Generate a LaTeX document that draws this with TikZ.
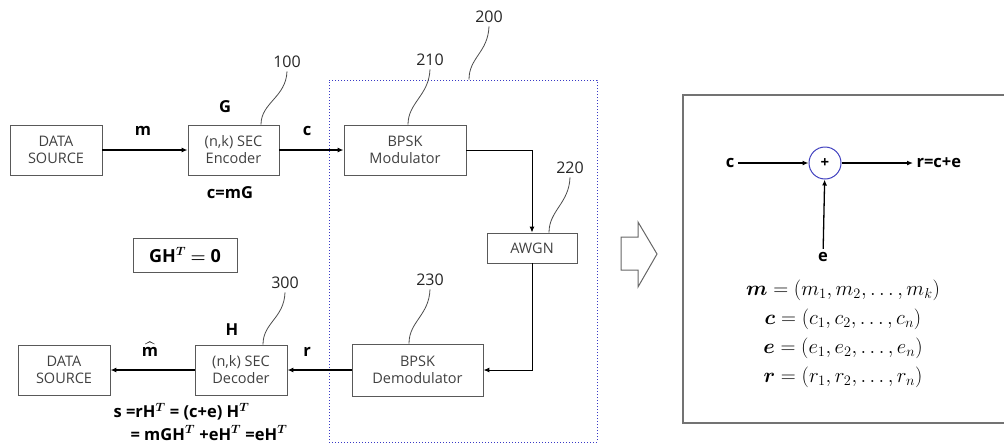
\documentclass[tikz,border=0pt]{standalone}
\usepackage{amsmath,bm}
\usepackage{fontspec}
\setmainfont{Open Sans}
\usetikzlibrary{arrows.meta}

\begin{document}
\begin{tikzpicture}[x=1pt, y=-1pt, >={Latex[length=6pt,width=5pt]},
    block/.style={draw=black!65, line width=0.9pt, align=center, inner sep=0pt,
                  font=\fontsize{14.5}{17}\selectfont, text=black!75},
    sig/.style={font=\bfseries\fontsize{16.5}{19}\selectfont},
    refno/.style={font=\fontsize{16}{18}\selectfont, text=black!85},
    leader/.style={draw=black!70, line width=0.8pt},
    flow/.style={->, line width=1.3pt},
    thinflow/.style={->, line width=1pt}]

    \useasboundingbox (0,0) rectangle (1004,445);

    % Channel frame (200)
    \node[draw=blue!55!gray, dotted, line width=1pt, minimum width=268pt, minimum height=362pt] (chan) at (463,261) {};

    % Transmitter row
    \node[block, minimum width=92pt, minimum height=50pt] (srcA) at (56,150) {DATA\\SOURCE};
    \node[block, minimum width=91pt, minimum height=50pt] (enc) at (233.5,150) {(n,k) SEC\\Encoder};
    \node[block, minimum width=122pt, minimum height=50pt] (mod) at (405,150) {BPSK\\Modulator};
    \node[block, minimum width=90pt, minimum height=30pt] (awgn) at (532,248) {AWGN};

    % Receiver row
    \node[block, minimum width=131pt, minimum height=52pt] (demod) at (417.5,370) {BPSK\\Demodulator};
    \node[block, minimum width=92pt, minimum height=50pt] (dec) at (241,370) {(n,k) SEC\\Decoder};
    \node[block, minimum width=92pt, minimum height=50pt] (srcB) at (64,370) {DATA\\SOURCE};

    % Connections
    \draw[flow] (srcA) -- (enc);
    \draw[flow] (enc) -- (mod);
    \draw[thinflow] (mod.east) -| (awgn.north);
    \draw[thinflow] (awgn.south) |- (demod.east);
    \draw[flow] (demod) -- (dec);
    \draw[flow] (dec) -- (srcB);

    % Signal labels
    \node[sig] (lm) at (143,131) {m};
    \node[sig] (lc) at (307,131) {c};
    \node[sig] (lG) at (225,107) {G};
    \node[sig] (lcmg) at (230,193) {c=mG};
    \node[sig] (lH) at (232,330) {H};
    \node[sig, inner sep=0pt] (lmhat) at (150,349) {$\widehat{\textbf{m}}$};
    \node[sig] (lr) at (307,352) {r};
    \node[block, font=\bfseries\fontsize{18}{20}\selectfont, text=black, minimum width=104pt, minimum height=34pt] (orth) at (185,255) {GH$^{\bm{T}}$ $\bm{=}$ 0};
    \node[sig, anchor=west] (synA) at (110,412) {s =rH$^{\bm{T}}$ = (c+e) H$^{\bm{T}}$};
    \node[sig, anchor=west] (synB) at (127,433) {= mGH$^{\bm{T}}$ +eH$^{\bm{T}}$ =eH$^{\bm{T}}$};

    % Reference numerals with leaders
    \node[refno] (n100) at (287,62) {100};
    \node[refno] (n200) at (489,17) {200};
    \node[refno] (n210) at (430,60) {210};
    \node[refno] (n220) at (570,168) {220};
    \node[refno] (n230) at (430,280) {230};
    \node[refno] (n300) at (285,283) {300};
    \draw[leader] (n100.south) .. controls +(-1,26) and +(0,-22) .. ([xshift=27.5pt]enc.north);
    \draw[leader] (n200.south) .. controls +(-1,26) and +(0,-22) .. ([xshift=6pt]chan.north);
    \draw[leader] (n210.south) .. controls +(-1,26) and +(0,-22) .. ([xshift=3pt]mod.north);
    \draw[leader] (n220.south) .. controls +(-1,26) and +(0,-22) .. ([xshift=17pt]awgn.north);
    \draw[leader] (n230.south) .. controls +(-1,26) and +(0,-22) .. ([xshift=-8.5pt]demod.north);
    \draw[leader] (n300.south) .. controls +(-1,26) and +(0,-22) .. ([xshift=22pt]dec.north);

    % Hollow arrow
    \draw[draw=black!60, line width=1pt, line join=miter] (621,237) -- (638,237) -- (638,222) -- (657,254) -- (638,287) -- (638,270) -- (621,270) -- cycle;

    % Channel model
    \node[draw=black!55, line width=1.2pt, minimum width=329pt, minimum height=328pt] (model) at (847.5,259) {};
    \node[circle, draw=blue!50!gray, line width=1pt, minimum size=32pt, inner sep=0pt, font=\bfseries\fontsize{15}{17}\selectfont] (add) at (825,163) {+};
    \node[sig] (cin) at (730,163) {c};
    \node[sig, anchor=west] (rout) at (913,163) {r=c+e};
    \node[sig] (ein) at (823,257) {e};
    \draw[flow] (cin) -- (add);
    \draw[flow] (add) -- (rout);
    \draw[flow] (ein) -- (add);
    \node[align=center, font=\fontsize{20}{29}\selectfont] (vecs) at (843,334)
        {$\bm{m}=(m_1,m_2,\ldots,m_k)$\\
         $\bm{c}=(c_1,c_2,\ldots,c_n)$\\
         $\bm{e}=(e_1,e_2,\ldots,e_n)$\\
         $\bm{r}=(r_1,r_2,\ldots,r_n)$};
\end{tikzpicture}
\end{document}
